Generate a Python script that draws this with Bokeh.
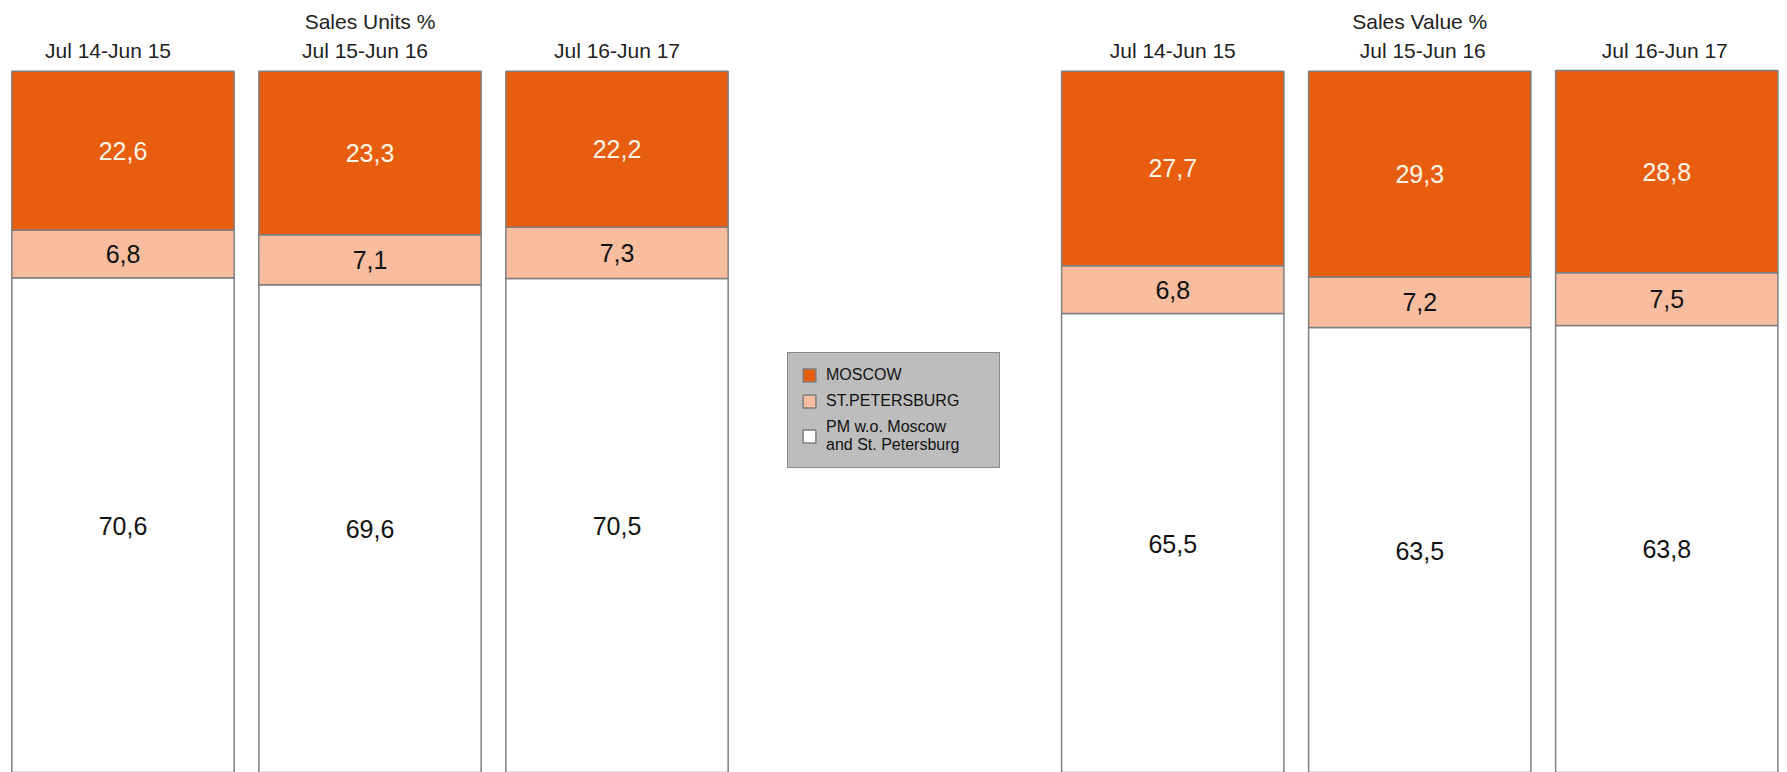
from bokeh.plotting import figure
from bokeh.models import ColumnDataSource, Legend, LegendItem
from bokeh.core.properties import value
from bokeh.embed import file_html
from bokeh.resources import INLINE

# ---------------- data ----------------
groups = ["Sales Units %", "Sales Value %"]
periods = ["Jul 14-Jun 15", "Jul 15-Jun 16", "Jul 16-Jun 17"]
moscow = [22.6, 23.3, 22.2, 27.7, 29.3, 28.8]
st_petersburg = [6.8, 7.1, 7.3, 6.8, 7.2, 7.5]
pm_rest = [70.6, 69.6, 70.5, 65.5, 63.5, 63.8]
series_names = ["MOSCOW", "ST.PETERSBURG", "PM w.o. Moscow\nand St. Petersburg"]

# ---------------- layout / style ----------------
W, H = 1787, 772
GROUP_STRIDE = 4.25      # distance (in bar pitches) between first bars of the two groups
BAR_WIDTH = 0.9
X_START = -0.496
PX_PER_UNIT_X = 247.0
Y_RANGE = (0.142, 110.07)
HEADER_Y = 102.95
TITLE_Y = 107.15
HEADER_X_SHIFT = [-15, -5, 0, 0, 3, -2]   # small pixel nudges of the period headers
FONT = "Liberation Sans, Arial, sans-serif"
ORANGE = "#E85E10"
PEACH = "#F8BD9F"
WHITE = "#FFFFFF"
EDGE = "#7F7F7F"

xs, period_lbl = [], []
for g in range(len(groups)):
    for i in range(len(periods)):
        xs.append(g * GROUP_STRIDE + i)
        period_lbl.append(periods[i])

def fmt(v):
    return f"{v:.1f}".replace(".", ",")

src = ColumnDataSource(dict(
    x=xs,
    pm=pm_rest,
    spb=st_petersburg,
    mos=moscow,
    pm_mid=[p / 2 for p in pm_rest],
    spb_mid=[p + s / 2 for p, s in zip(pm_rest, st_petersburg)],
    mos_mid=[p + s + m / 2 for p, s, m in zip(pm_rest, st_petersburg, moscow)],
    pm_txt=[fmt(v) for v in pm_rest],
    spb_txt=[fmt(v) for v in st_petersburg],
    mos_txt=[fmt(v) for v in moscow],
    period=period_lbl,
    hy=[HEADER_Y] * len(xs),
    hdx=HEADER_X_SHIFT,
))

p = figure(width=W, height=H, output_backend="svg", toolbar_location=None,
           x_range=(X_START, X_START + W / PX_PER_UNIT_X), y_range=Y_RANGE,
           min_border=0, min_border_left=0, min_border_right=0,
           min_border_top=0, min_border_bottom=0)
p.axis.visible = False
p.grid.visible = False
p.outline_line_color = None
p.background_fill_color = "white"
p.border_fill_color = "white"

rs = p.vbar_stack(["pm", "spb", "mos"], x="x", width=BAR_WIDTH, source=src,
                  fill_color=[WHITE, PEACH, ORANGE], line_color=EDGE, line_width=1.5)

VAL_SIZE = "25px"
p.text(x="x", y="mos_mid", text="mos_txt", source=src, text_align="center",
       text_baseline="middle", text_font=value(FONT), text_font_size=VAL_SIZE,
       text_color="#FFF6E6")
p.text(x="x", y="spb_mid", text="spb_txt", source=src, text_align="center",
       text_baseline="middle", text_font=value(FONT), text_font_size=VAL_SIZE,
       text_color="#111111")
p.text(x="x", y="pm_mid", text="pm_txt", source=src, text_align="center",
       text_baseline="middle", text_font=value(FONT), text_font_size=VAL_SIZE,
       text_color="#111111")

# period headers
p.text(x="x", y="hy", text="period", x_offset="hdx", source=src, text_align="center",
       text_baseline="middle", text_font=value(FONT), text_font_size="21px",
       text_color="#222222")
# group titles over the middle bar of each group
title_src = ColumnDataSource(dict(
    x=[g * GROUP_STRIDE + (len(periods) - 1) / 2 for g in range(len(groups))],
    y=[TITLE_Y] * len(groups),
    t=groups,
))
p.text(x="x", y="y", text="t", source=title_src, text_align="center",
       text_baseline="middle", text_font=value(FONT), text_font_size="21px",
       text_color="#222222")

legend = Legend(items=[
    LegendItem(label=series_names[0], renderers=[rs[2]]),
    LegendItem(label=series_names[1], renderers=[rs[1]]),
    LegendItem(label=series_names[2], renderers=[rs[0]]),
], location=(787, 304), orientation="vertical",
    background_fill_color="#BDBDBD", background_fill_alpha=1.0,
    border_line_color="#555555", border_line_width=1.5,
    label_text_font=FONT, label_text_font_size="16px", label_text_color="#111111",
    glyph_width=16, glyph_height=16, label_height=17, label_width=160,
    label_standoff=9, spacing=8, padding=13, margin=0)
p.add_layout(legend, "center")

open("out.html", "w").write(file_html(p, INLINE))
